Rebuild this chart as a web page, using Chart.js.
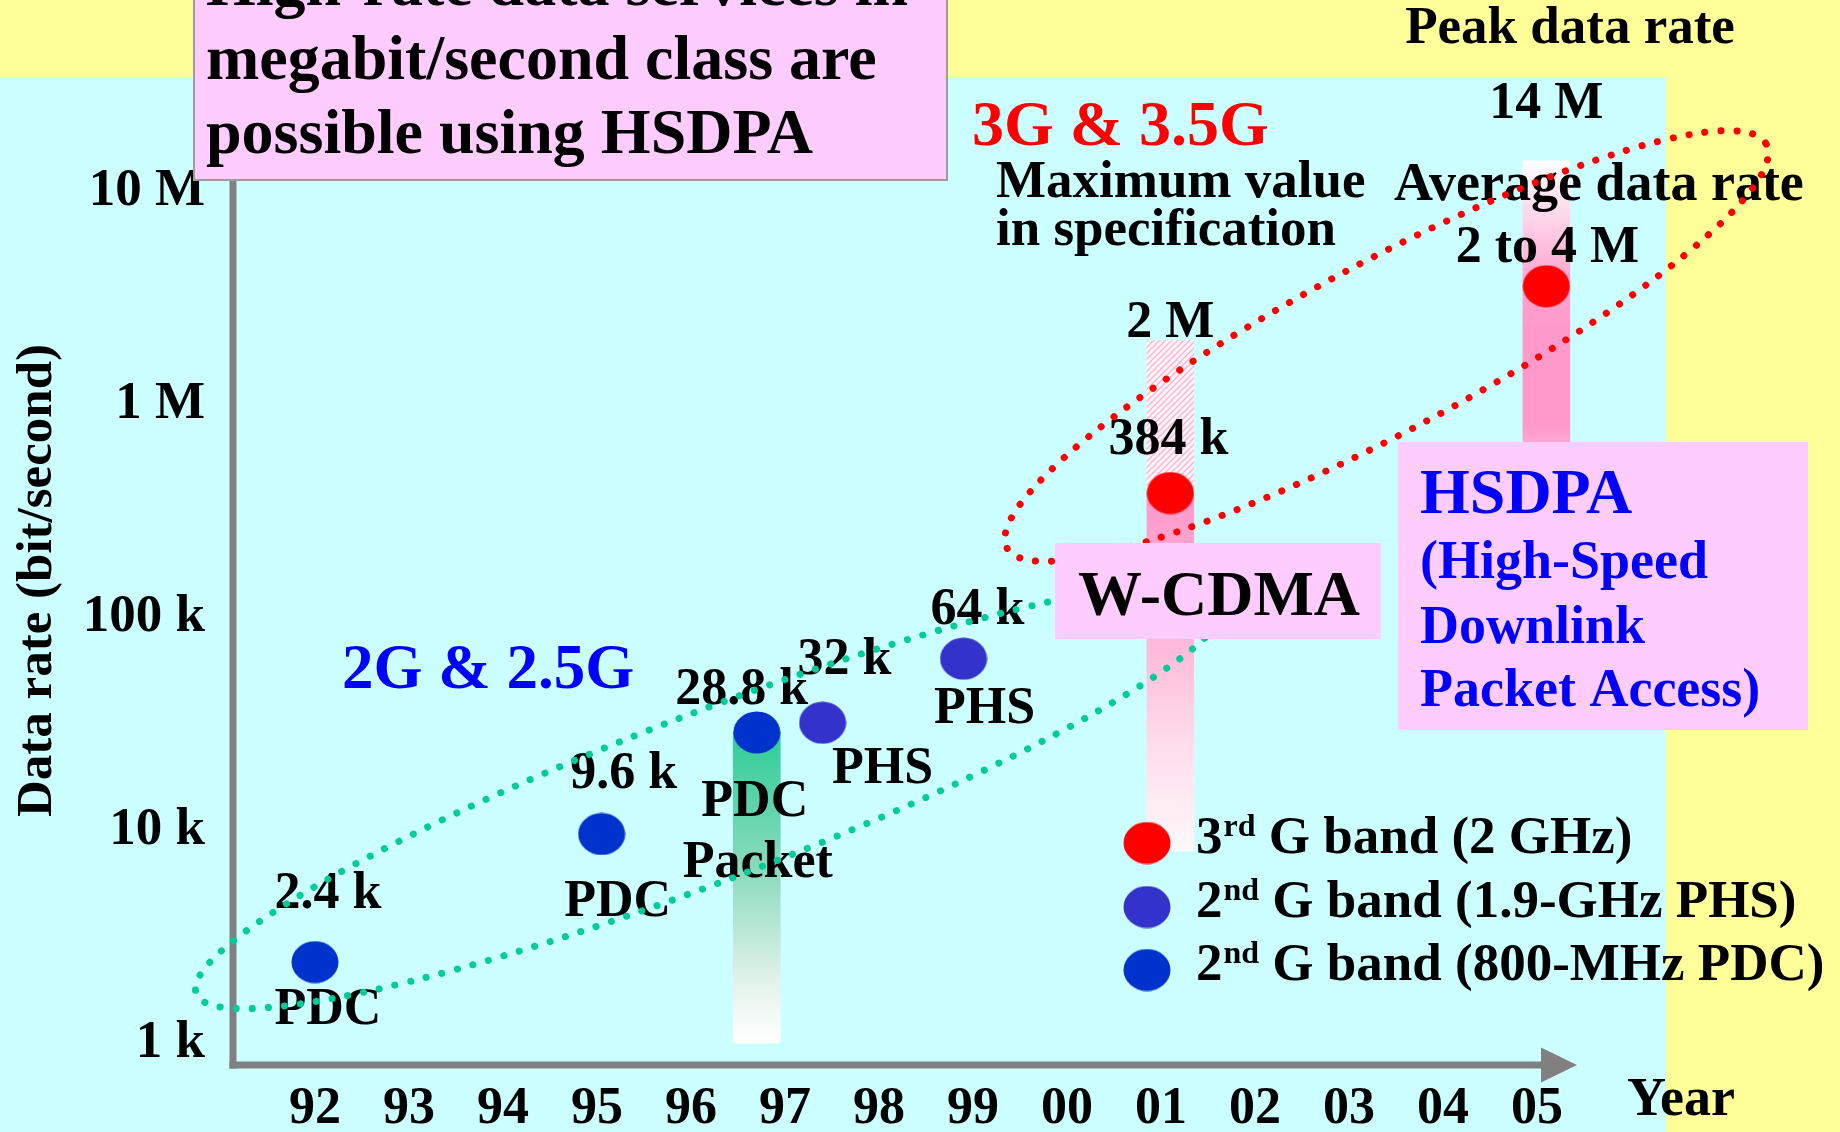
<!DOCTYPE html>
<html>
<head>
<meta charset="utf-8">
<title>Data rate evolution</title>
<script src="https://cdn.jsdelivr.net/npm/chart.js@4.4.1/dist/chart.umd.min.js"></script>
<style>
  html, body { margin: 0; padding: 0; background: #FFFF99; }
  canvas { display: block; }
</style>
</head>
<body>
<canvas id="chart" width="1840" height="1132"></canvas>
<script>
// ---- axis ticks ----
const yearTicks  = [1992, 1993, 1994, 1995, 1996, 1997, 1998, 1999, 2000, 2001, 2002, 2003, 2004, 2005];
const yearLabels = ['92', '93', '94', '95', '96', '97', '98', '99', '00', '01', '02', '03', '04', '05'];
const rateTicks  = [1e3, 1e4, 1e5, 1e6, 1e7];
const rateLabels = ['1 k', '10 k', '100 k', '1 M', '10 M'];

// ---- 2nd G band (800-MHz PDC) ----
const pdcYears = [1992.0, 1995.05, 1996.7];
const pdcRates = [2400, 9600, 28800];
const pdcText  = ['2.4 k', '9.6 k', '28.8 k'];

// ---- 2nd G band (1.9-GHz PHS) ----
const phsYears = [1997.4, 1998.9];
const phsRates = [32000, 64000];
const phsText  = ['32 k', '64 k'];

// ---- 3rd G band (2 GHz) ----
const g3Years = [2001.1, 2005.1];
const g3Rates = [384000, 3600000];
const g3Text  = ['384 k', '2 to 4 M'];

// ---- rate ranges (PDC packet, W-CDMA, W-CDMA spec maximum, HSDPA peak) ----
const rangeYears = [1996.7, 2001.1, 2001.1, 2005.1];
const rangeLow   = [1000, 8000, 384000, 384000];
const rangeHigh  = [28800, 384000, 2000000, 14000000];
const rangeText  = ['', '', '2 M', '14 M'];

// ---- legend ----
const legendRows = [
  ['3', 'rd', ' G band (2 GHz)'],
  ['2', 'nd', ' G band (1.9-GHz PHS)'],
  ['2', 'nd', ' G band (800-MHz PDC)']
];

// ---- generation groupings (dotted outlines) ----
const group2G = { year: 1996.22, rate: 14500 };
const group3G = { year: 2003.40, rate: 1886000 };

const FONT = "'Liberation Serif', 'Times New Roman', serif";
const COL_PDC = '#0033CC', COL_PHS = '#3333CC', COL_3G = '#FF0000';
const PINK_BOX = '#FFCCFF';

function dotImage(color) {
  const c = document.createElement('canvas');
  c.width = 48; c.height = 43;
  const g = c.getContext('2d');
  g.fillStyle = color;
  g.beginPath();
  g.ellipse(24, 21.5, 23.5, 21, 0, 0, Math.PI * 2);
  g.fill();
  return c;
}
const dotPDC = dotImage(COL_PDC), dotPHS = dotImage(COL_PHS), dot3G = dotImage(COL_3G);

function hatch() {
  const t = document.createElement('canvas');
  t.width = 6; t.height = 6;
  const g = t.getContext('2d');
  g.fillStyle = '#FFF6FA';
  g.fillRect(0, 0, 6, 6);
  g.strokeStyle = '#FFB4D4';
  g.lineWidth = 1.5;
  g.beginPath();
  g.moveTo(-1, 7); g.lineTo(7, -1);
  g.moveTo(-1, 1); g.lineTo(1, -1);
  g.moveTo(5, 7); g.lineTo(7, 5);
  g.stroke();
  return g.createPattern(t, 'repeat');
}

function barGradient(stops, low, high) {
  return (c) => {
    const chart = c.chart;
    if (!chart.chartArea) return stops[0][1];
    const y = chart.scales.y;
    const g = chart.ctx.createLinearGradient(0, y.getPixelForValue(high), 0, y.getPixelForValue(low));
    stops.forEach(([o, col]) => g.addColorStop(o, col));
    return g;
  };
}

function pts(xs, ys) { return xs.map((x, i) => ({ x, y: ys[i] })); }
function rangeBar(i, fill) {
  return {
    type: 'bar',
    data: [{ x: rangeYears[i], y: [rangeLow[i], rangeHigh[i]] }],
    backgroundColor: fill,
    borderWidth: 0,
    barThickness: 47,
    grouped: false,
    order: 2,
    clip: false
  };
}

function text(ctx, s, x, y, size, color, align) {
  ctx.font = `bold ${size}px ${FONT}`;
  ctx.fillStyle = color;
  ctx.textAlign = align || 'left';
  ctx.textBaseline = 'alphabetic';
  ctx.fillText(s, x, y);
}

function dottedOutline(ctx, chart, grp, a, b, tilt, color) {
  const cx = chart.scales.x.getPixelForValue(grp.year);
  const cy = chart.scales.y.getPixelForValue(grp.rate);
  ctx.save();
  ctx.strokeStyle = color;
  ctx.lineWidth = 7;
  ctx.lineCap = 'round';
  ctx.setLineDash([0.1, 16]);
  ctx.beginPath();
  ctx.ellipse(cx, cy, a, b, -tilt * Math.PI / 180, 0, Math.PI * 2);
  ctx.stroke();
  ctx.restore();
}

const art = {
  id: 'art',
  beforeDraw(chart) {
    const { ctx, width, height } = chart;
    ctx.save();
    ctx.fillStyle = '#FFFF99';
    ctx.fillRect(0, 0, width, height);
    ctx.fillStyle = '#CCFFFF';
    ctx.fillRect(0, 77, 1666, height - 77);
    ctx.restore();
  },
  beforeDatasetsDraw(chart) {
    const { ctx, chartArea: a } = chart;
    ctx.save();
    ctx.fillStyle = '#808080';
    ctx.fillRect(a.left - 3.5, a.top, 7, a.bottom - a.top + 3.5);
    ctx.fillRect(a.left - 3.5, a.bottom - 3.5, a.right - 36 - a.left + 3.5, 7);
    ctx.beginPath();
    ctx.moveTo(a.right - 36, a.bottom - 17.5);
    ctx.lineTo(a.right, a.bottom);
    ctx.lineTo(a.right - 36, a.bottom + 17.5);
    ctx.closePath();
    ctx.fill();
    ctx.restore();
  },
  afterDatasetsDraw(chart) {
    const { ctx } = chart;
    const xs = chart.scales.x, ys = chart.scales.y;
    const px = (yr) => xs.getPixelForValue(yr);
    const py = (r) => ys.getPixelForValue(r);
    ctx.save();

    // value labels beside each point
    const valueOffsets = {
      pdc: [[13, -54], [22, -46], [-15, -28]],
      phs: [[22, -49], [14, -35]],
      g3:  [[-2, -39], [1, -24]]
    };
    const series = {
      pdc: [pdcYears, pdcRates, pdcText],
      phs: [phsYears, phsRates, phsText],
      g3:  [g3Years, g3Rates, g3Text]
    };
    Object.keys(series).forEach(k => {
      const [yrs, rates, labels] = series[k];
      yrs.forEach((yr, i) => {
        const [dx, dy] = valueOffsets[k][i];
        text(ctx, labels[i], px(yr) + dx, py(rates[i]) + dy, 52, '#000', 'center');
      });
    });

    // system names under the points
    const names = [
      ['PDC', pdcYears[0], pdcRates[0], 13, 62],
      ['PDC', pdcYears[1], pdcRates[1], 16, 82],
      ['PDC', pdcYears[2], pdcRates[2], -2, 84],
      ['Packet', pdcYears[2], pdcRates[2], 1, 145],
      ['PHS', phsYears[0], phsRates[0], 60, 60],
      ['PHS', phsYears[1], phsRates[1], 21, 64]
    ];
    names.forEach(([s, yr, r, dx, dy]) => text(ctx, s, px(yr) + dx, py(r) + dy, 52, '#000', 'center'));

    // labels at the top of the range bars
    const topOffsets = [0, 0, -4, -43];
    rangeText.forEach((s, i) => {
      if (s) text(ctx, s, px(rangeYears[i]), py(rangeHigh[i]) + topOffsets[i], 52, '#000', 'center');
    });

    // headings
    text(ctx, '3G & 3.5G', 972, 145, 64, '#FF0000');
    text(ctx, 'Maximum value', 996, 197, 53, '#000');
    text(ctx, 'in specification', 996, 245, 53, '#000');
    text(ctx, 'Peak data rate', 1570, 43, 53, '#000', 'center');
    text(ctx, 'Average data rate', 1394, 200, 54, '#000');
    text(ctx, '2G & 2.5G', 342, 688, 63, '#0000FF');
    text(ctx, 'Year', 1627, 1115, 54, '#000');

    // generation outlines
    dottedOutline(ctx, chart, group2G, 552, 84, 21, '#00CC99');
    dottedOutline(ctx, chart, group3G, 430, 85, 28, '#FF0000');

    // W-CDMA box
    ctx.fillStyle = PINK_BOX;
    ctx.fillRect(1055, 543, 326, 96);
    text(ctx, 'W-CDMA', 1078, 615, 64, '#000');

    // HSDPA box
    ctx.fillStyle = PINK_BOX;
    ctx.fillRect(1398, 442, 410, 288);
    text(ctx, 'HSDPA', 1420, 513, 64, '#0000FF');
    text(ctx, '(High-Speed', 1420, 578, 54, '#0000FF');
    text(ctx, 'Downlink', 1420, 643, 54, '#0000FF');
    text(ctx, 'Packet Access)', 1420, 706, 54, '#0000FF');

    // headline box
    ctx.fillStyle = PINK_BOX;
    ctx.fillRect(194, -4, 753, 184);
    ctx.strokeStyle = '#9C9C9C';
    ctx.lineWidth = 2;
    ctx.strokeRect(194, -4, 753, 184);
    text(ctx, 'High-rate data services in', 206, 5, 64, '#000');
    text(ctx, 'megabit/second class are', 206, 79, 64, '#000');
    text(ctx, 'possible using HSDPA', 206, 153, 64, '#000');

    // legend
    const dots = [dot3G, dotPHS, dotPDC];
    const rowY = [853, 917, 980];
    legendRows.forEach((row, i) => {
      const d = dots[i];
      ctx.drawImage(d, 1147 - d.width / 2, rowY[i] - 10 - d.height / 2);
      let x = 1196;
      text(ctx, row[0], x, rowY[i], 53, '#000');
      ctx.font = `bold 53px ${FONT}`;
      x += ctx.measureText(row[0]).width + 1;
      text(ctx, row[1], x, rowY[i] - 17, 32, '#000');
      ctx.font = `bold 32px ${FONT}`;
      x += ctx.measureText(row[1]).width;
      text(ctx, row[2], x, rowY[i], 53, '#000');
    });

    ctx.restore();
  }
};

const chart = new Chart(document.getElementById('chart'), {
  type: 'scatter',
  data: {
    datasets: [
      { label: '3rd G band (2 GHz)', type: 'scatter', data: pts(g3Years, g3Rates), pointStyle: dot3G, order: 0, clip: false },
      { label: '2nd G band (1.9-GHz PHS)', type: 'scatter', data: pts(phsYears, phsRates), pointStyle: dotPHS, order: 0, clip: false },
      { label: '2nd G band (800-MHz PDC)', type: 'scatter', data: pts(pdcYears, pdcRates), pointStyle: dotPDC, order: 0, clip: false },
      rangeBar(0, barGradient([[0, '#2ECC99'], [0.45, '#8CDBBD'], [0.8, '#E2F2EB'], [1, '#FFFFFF']], rangeLow[0], rangeHigh[0])),
      rangeBar(1, barGradient([[0, '#FF99CC'], [0.35, '#FFB0D4'], [0.7, '#FFDDEA'], [1, '#FFF8FB']], rangeLow[1], rangeHigh[1])),
      rangeBar(2, hatch()),
      rangeBar(3, barGradient([[0, '#FFFFFF'], [0.35, '#FFA8D2'], [0.5, '#FF99CC'], [0.8, '#FF99CC'], [0.9, '#FFB8D8'], [1, '#FFCCE2']], rangeLow[3], rangeHigh[3]))
    ]
  },
  options: {
    responsive: false,
    animation: false,
    events: [],
    layout: { padding: { top: 96, right: 263, bottom: 0, left: 0 } },
    plugins: { legend: { display: false }, tooltip: { enabled: false } },
    scales: {
      x: {
        type: 'linear',
        offset: false,
        min: 1991.128,
        max: 2005.426,
        grid: { display: false, drawTicks: false, offset: false },
        border: { display: false },
        afterBuildTicks: (s) => { s.ticks = yearTicks.map(v => ({ value: v })); },
        afterFit: (s) => { s.height = 67; },
        ticks: {
          autoSkip: false,
          maxRotation: 0,
          padding: 19,
          color: '#000',
          font: { family: FONT, size: 52, weight: 'bold', lineHeight: 1 },
          callback: (v, i) => yearLabels[i]
        }
      },
      y: {
        type: 'logarithmic',
        min: 788.2,
        max: 2.8198e7,
        grid: { display: false, drawTicks: false },
        border: { display: false },
        afterBuildTicks: (s) => { s.ticks = rateTicks.map(v => ({ value: v })); },
        afterFit: (s) => { s.width = 233; },
        ticks: {
          padding: 28,
          color: '#000',
          font: { family: FONT, size: 53, weight: 'bold', lineHeight: 1 },
          callback: (v, i) => rateLabels[i]
        },
        title: {
          display: true,
          text: 'Data rate (bit/second)',
          color: '#000',
          padding: { top: 7, bottom: 0 },
          font: { family: FONT, size: 51, weight: 'bold' }
        }
      }
    }
  },
  plugins: [art]
});
</script>
</body>
</html>
